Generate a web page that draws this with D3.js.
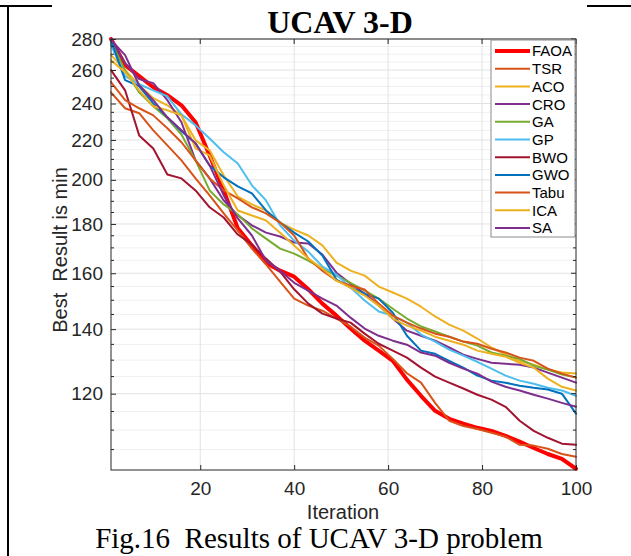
<!DOCTYPE html>
<html><head><meta charset="utf-8">
<script src="https://cdn.jsdelivr.net/npm/d3@7/dist/d3.min.js"></script>
<style>body{margin:0;background:#fff}svg{display:block}</style>
</head><body>
<svg id="chart" width="631" height="556"></svg>
<script>
const iterations = [1,4,7,10,13,16,19,22,25,28,31,34,37,40,43,46,49,52,55,58,61,64,67,70,73,76,79,82,85,88,91,94,97,100];
const FAOA = [280,263.1,256.2,249.5,244.8,239.0,229.5,212.0,195.0,178.1,171.0,164.1,161.0,158.7,154.0,148.8,144.6,140.2,136.2,133.0,129.8,124.1,119.4,115.2,113.0,111.7,110.6,109.8,108.5,107.0,105.4,103.9,102.7,100.3];
const TSR = [246.5,237.3,234.5,225.1,217.2,209.5,200.7,192.7,184.6,177.2,169.7,163.4,156.8,150.6,148.1,146.3,143.6,140.9,137.2,134.6,130.4,126.0,123.2,117.4,112.5,111.1,110.3,109.3,108.3,106.2,106.0,105.2,103.9,103.2];
const ACO = [269.4,259.9,250.7,243.1,239.0,233.3,219.8,214.6,202.1,192.2,188.6,185.9,180.6,177.6,175.1,171.0,164.1,161.0,159.1,155.0,152.8,150.6,147.7,144.3,141.5,139.5,136.9,134.0,131.7,129.8,128.6,127.1,126.2,125.9];
const CRO = [280,264.3,254.4,252.0,241.9,229.5,209.5,200.7,190.4,183.7,179.4,176.3,174.7,172.2,171.8,167.3,160.2,156.1,152.4,148.1,143.6,139.5,137.8,136.2,134.0,131.7,130.4,129.2,128.9,128.6,127.7,126.2,124.7,123.2];
const GA = [278.0,259.9,246.5,238.4,231.7,222.9,209.5,195.0,188.6,184.1,178.1,173.8,169.7,167.7,164.9,161.8,159.1,156.4,153.5,150.6,147.0,143.6,140.9,139.2,137.5,135.9,134.6,132.4,131.4,130.4,128.3,127.1,125.6,124.7];
const GP = [276.0,256.2,251.3,247.7,244.2,233.9,227.8,220.8,213.6,208.0,197.4,190.4,179.4,173.0,168.5,162.6,159.5,154.6,149.9,146.0,144.6,142.2,138.2,135.9,133.3,131.4,129.5,127.4,125.3,123.8,122.9,121.7,120.9,119.4];
const BWO = [259.9,247.7,222.4,215.6,202.6,200.7,195.0,187.3,182.8,175.5,171.4,165.7,160.6,154.0,148.8,145.3,143.6,142.2,138.5,135.2,133.0,130.8,127.7,125.0,123.2,121.5,119.7,118.3,116.3,112.5,109.8,108.0,106.5,106.2];
const GWO = [279.3,253.8,250.1,240.1,232.2,224.6,218.2,207.0,201.2,196.9,193.6,185.9,180.6,176.3,172.6,166.9,157.6,154.6,152.4,150.6,145.6,137.8,133.0,132.0,129.8,127.7,125.3,123.8,123.2,122.3,121.7,121.2,120.0,114.4];
const Tabu = [252.6,241.9,237.3,233.3,226.2,218.8,209.5,200.7,195.0,191.3,187.3,184.6,180.6,175.1,165.7,161.0,157.2,155.3,153.9,148.8,144.6,142.2,140.2,138.5,137.5,135.9,135.2,133.6,132.4,130.8,129.8,127.4,125.9,124.7];
const ICA = [266.2,258.7,247.7,238.4,236.2,233.3,215.6,212.0,197.4,185.9,183.7,181.5,176.3,171.0,165.7,161.8,157.2,154.6,151.7,148.1,143.6,141.2,139.5,137.5,136.2,134.9,133.0,132.0,131.1,129.2,127.7,124.4,122.0,120.9];
const SA = [279.3,269.4,250.7,241.9,232.2,225.1,218.2,207.0,192.7,182.4,175.1,164.9,161.0,156.4,153.5,150.6,148.1,143.9,140.2,137.8,136.2,134.9,132.4,131.4,129.2,127.4,125.9,123.5,122.0,120.9,119.7,118.6,117.4,116.3];

const seriesNames = ["FAOA","TSR","ACO","CRO","GA","GP","BWO","GWO","Tabu","ICA","SA"];
const seriesValues = [FAOA,TSR,ACO,CRO,GA,GP,BWO,GWO,Tabu,ICA,SA];
const seriesColors = ["#ff0000","#d95319","#edb120","#7e2f8e","#77ac30","#4dbeee","#a2142f","#0072bd","#d95319","#edb120","#7e2f8e"];
const seriesWidths = [4,2,2,2,2,2,2,2,2,2,2];
const xTicks = [20,40,60,80,100];
const yTicks = [120,140,160,180,200,220,240,260,280];
const yMinor = [105,110,115,125,130,135,145,150,155,165,170,175,185,190,195,205,210,215,225,230,235,245,250,255,265,270,275];

const svg = d3.select("#chart");
const W = 631, H = 556;
const L = 111, R = 576, T = 39, B = 470;
svg.append("rect").attr("width",W).attr("height",H).attr("fill","#fff");

// page frame lines
svg.append("line").attr("x1",8).attr("x2",8).attr("y1",5).attr("y2",H).attr("stroke","#000").attr("stroke-width",2);
svg.append("line").attr("x1",0).attr("x2",52).attr("y1",6).attr("y2",6).attr("stroke","#000").attr("stroke-width",2);
svg.append("line").attr("x1",587).attr("x2",W).attr("y1",6).attr("y2",6).attr("stroke","#000").attr("stroke-width",2);

const x = d3.scaleLinear().domain([1,100]).range([L,R]);
const y = d3.scaleLog().domain([100,280]).range([B,T]);

// grids
const g = svg.append("g");
g.selectAll(".ymin").data(yMinor).join("line")
  .attr("x1",L).attr("x2",R).attr("y1",d=>y(d)).attr("y2",d=>y(d))
  .attr("stroke","#f0f0f0").attr("stroke-width",1);
g.selectAll(".ymaj").data(yTicks).join("line")
  .attr("x1",L).attr("x2",R).attr("y1",d=>y(d)).attr("y2",d=>y(d))
  .attr("stroke","#e2e2e2").attr("stroke-width",1);
g.selectAll(".xmaj").data(xTicks.filter(d=>d<100)).join("line")
  .attr("x1",d=>x(d)).attr("x2",d=>x(d)).attr("y1",T).attr("y2",B)
  .attr("stroke","#e2e2e2").attr("stroke-width",1);

// lines
const line = d3.line().x((d,i)=>x(iterations[i])).y(d=>y(d));
const lg = svg.append("g").attr("fill","none").attr("stroke-linejoin","round").attr("stroke-linecap","round");
seriesValues.forEach((vals,k)=>{
  lg.append("path").datum(vals).attr("d",line)
    .attr("stroke",seriesColors[k]).attr("stroke-width",seriesWidths[k]);
});

// axes
const axColor = "#262626";
const fontAx = "'Liberation Sans', Arial, sans-serif";
const ax = svg.append("g").attr("transform",`translate(0,${B})`)
  .call(d3.axisBottom(x).tickValues(xTicks).tickSize(-5).tickPadding(12).tickFormat(d3.format("d")));
const ay = svg.append("g").attr("transform",`translate(${L},0)`)
  .call(d3.axisLeft(y).tickValues(yTicks).tickSize(-5).tickPadding(8).tickFormat(d3.format("d")));
[ax,ay].forEach(a=>{
  a.select(".domain").remove();
  a.selectAll("line").attr("stroke",axColor);
  a.selectAll("text").attr("fill",axColor).style("font-family",fontAx).style("font-size","19px");
});
// minor ticks left & right
svg.append("g").selectAll("line").data(yMinor).join("line")
  .attr("x1",L).attr("x2",L+3).attr("y1",d=>y(d)).attr("y2",d=>y(d)).attr("stroke",axColor);
svg.append("g").selectAll("line").data(yMinor).join("line")
  .attr("x1",R-3).attr("x2",R).attr("y1",d=>y(d)).attr("y2",d=>y(d)).attr("stroke",axColor);
svg.append("g").selectAll("line").data(yTicks).join("line")
  .attr("x1",R-5).attr("x2",R).attr("y1",d=>y(d)).attr("y2",d=>y(d)).attr("stroke",axColor);
svg.append("g").selectAll("line").data(xTicks).join("line")
  .attr("x1",d=>x(d)).attr("x2",d=>x(d)).attr("y1",T).attr("y2",T+5).attr("stroke",axColor);
// box
svg.append("rect").attr("x",L).attr("y",T).attr("width",R-L).attr("height",B-T)
  .attr("fill","none").attr("stroke",axColor).attr("stroke-width",1);

// labels
svg.append("text").attr("x",343).attr("y",519).attr("text-anchor","middle")
  .attr("fill",axColor).style("font-family",fontAx).style("font-size","20px").text("Iteration");
svg.append("text").attr("transform","translate(67,250) rotate(-90)").attr("text-anchor","middle")
  .attr("fill",axColor).style("font-family",fontAx).style("font-size","20px")
  .style("white-space","pre").text("Best  Result is min");

svg.append("text").attr("x",340).attr("y",33).attr("text-anchor","middle")
  .style("font-family","'Liberation Serif','Times New Roman',serif").style("font-weight","bold")
  .style("font-size","32px").attr("fill","#000").text("UCAV 3-D");
svg.append("text").attr("x",319).attr("y",548).attr("text-anchor","middle")
  .style("font-family","'Liberation Serif','Times New Roman',serif").style("white-space","pre")
  .style("font-size","29px").attr("fill","#000").text("Fig.16  Results of UCAV 3-D problem");

// legend
const legX = 491, legY = 40, legW = 84, legH = 197;
const leg = svg.append("g");
leg.append("rect").attr("x",legX).attr("y",legY).attr("width",legW).attr("height",legH)
  .attr("fill","#fff").attr("stroke","#8c8c8c").attr("stroke-width",1);
seriesNames.forEach((name,k)=>{
  const yy = 51 + k*17.7;
  leg.append("line").attr("x1",495).attr("x2",530).attr("y1",yy).attr("y2",yy)
    .attr("stroke",seriesColors[k]).attr("stroke-width",seriesWidths[k]);
  leg.append("text").attr("x",532).attr("y",yy).attr("dy","0.36em")
    .style("font-family",fontAx).style("font-size","15px").attr("fill","#000").text(name);
});
</script>
</body></html>
